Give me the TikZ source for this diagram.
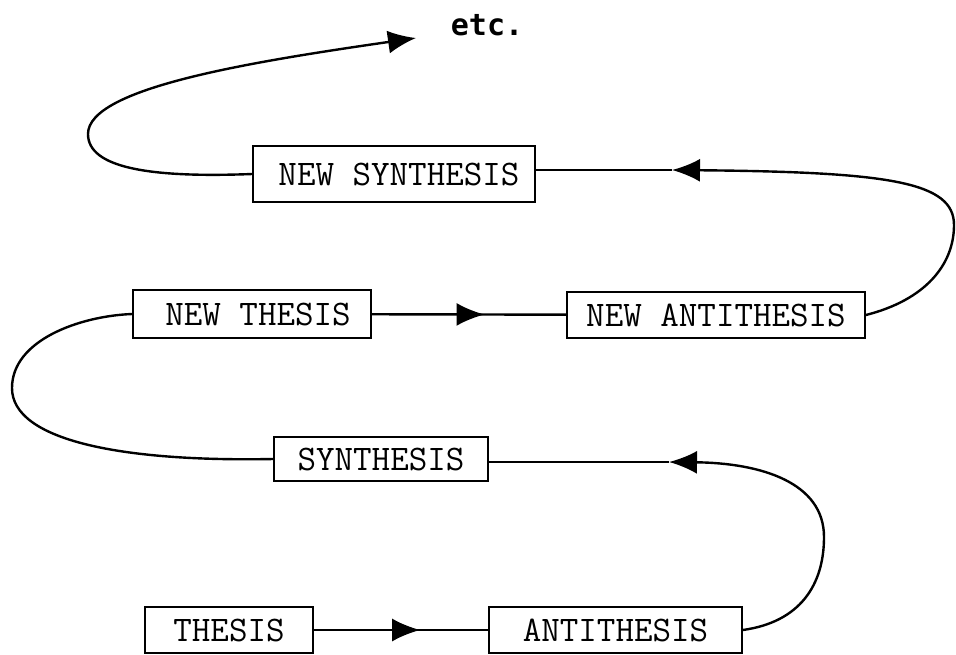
\documentclass[tikz,border=0pt]{standalone}
\usepackage{fontspec}
\newfontfamily\etcfont{DejaVu Sans Mono}
\usetikzlibrary{arrows.meta,decorations.markings}
\begin{document}
\begin{tikzpicture}[x=1pt,y=-1pt,
  box/.style={draw, line width=1.8pt, inner sep=0pt, font=\ttfamily\fontsize{36}{36}\selectfont},
  conn/.style={line width=2.4pt},
  tip/.style={-{Latex[length=28pt,width=23pt]}},
  midarrow/.style={postaction={decorate}, decoration={markings, mark=at position #1 with {\arrow{Latex[length=28pt,width=23pt]}}}}]
\useasboundingbox[fill=white] (0,0) rectangle (956,654);
\node[box, minimum width=282pt, minimum height=56pt] (ns) at (394,174) {\hspace{10pt}NEW SYNTHESIS};
\node[box, minimum width=238pt, minimum height=48pt] (nt) at (252,314) {\hspace{12pt}NEW THESIS};
\node[box, minimum width=298pt, minimum height=46pt] (na) at (716,315) {NEW ANTITHESIS\hspace{8pt}};
\node[box, minimum width=214pt, minimum height=44pt] (syn) at (381,459) {SYNTHESIS};
\node[box, minimum width=168pt, minimum height=46pt] (th) at (229,630) {THESIS};
\node[box, minimum width=253pt, minimum height=46pt] (an) at (615.5,630) {ANTITHESIS};
\node[font=\etcfont\bfseries\fontsize{30}{30}\selectfont, anchor=base, inner sep=0pt] (etc) at (487,35) {etc.};
\draw[conn, midarrow=0.61] (th) -- (an);
\draw[conn, midarrow=0.58] (nt) -- (na);
\coordinate (c1) at (669,462);
\draw[conn, tip] (an.east) .. controls (800,622) and (824,585) .. (824,537) .. controls (824,482) and (760,463) .. (c1);
\draw[conn] (c1) -- ([yshift=-3pt]syn.east);
\draw[conn] (syn.west) .. controls (120,462) and (12,440) .. (12,388) .. controls (12,340) and (80,316) .. (nt.west);
\coordinate (c2) at (672,170);
\draw[conn, tip] (na.east) .. controls (925,300) and (954,265) .. (954,225) .. controls (954,182) and (890,172) .. (c2);
\draw[conn] (c2) -- ([yshift=4pt]ns.east);
\coordinate (c3) at (416,38);
\draw[conn, tip] (ns.west) .. controls (150,178) and (88,168) .. (88,134) .. controls (88,88) and (250,62) .. (c3);
\end{tikzpicture}
\end{document}
